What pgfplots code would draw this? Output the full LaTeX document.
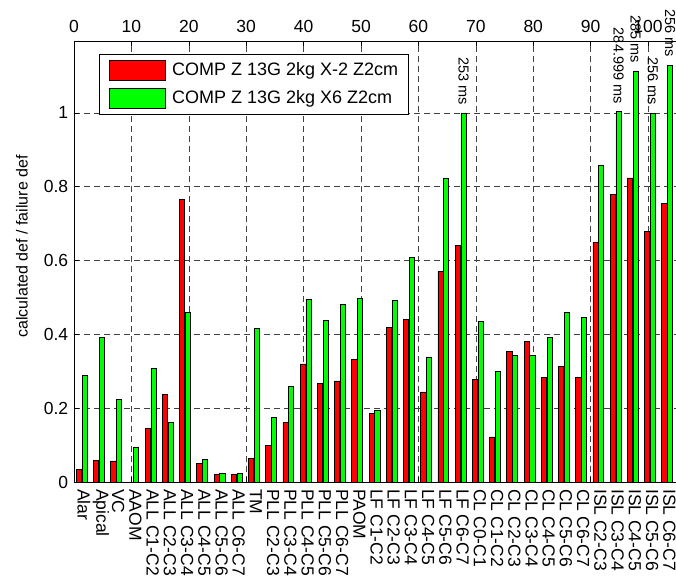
\documentclass[border=0pt]{standalone}
\usepackage{fontspec}
\setmainfont{Liberation Sans}
\usepackage{pgfplots}
\usepackage{pgfplotstable}
\pgfplotsset{compat=1.18}

% k = category index; red = X-2 case, green = X6 case
\pgfplotstableread{
k  red    green
0  0.035  0.289
1  0.058  0.391
2  0.057  0.224
3  0.000  0.095
4  0.145  0.308
5  0.237  0.161
6  0.765  0.460
7  0.050  0.061
8  0.021  0.023
9  0.021  0.023
10 0.065  0.415
11 0.099  0.176
12 0.161  0.259
13 0.320  0.495
14 0.267  0.438
15 0.274  0.480
16 0.332  0.498
17 0.186  0.194
18 0.419  0.491
19 0.441  0.609
20 0.244  0.339
21 0.570  0.823
22 0.641  1.000
23 0.278  0.435
24 0.122  0.300
25 0.354  0.342
26 0.381  0.342
27 0.284  0.392
28 0.313  0.460
29 0.284  0.445
30 0.650  0.859
31 0.780  1.003
32 0.824  1.114
33 0.680  0.999
34 0.756  1.129
}\defdata

\pgfplotsset{
  common/.style={
    scale only axis, width=608.5bp, height=441bp,
    xmin=0, xmax=106, ymin=0, ymax=1.195,
    /pgf/number format/assume math mode=true,
  },
  swatch/.style={legend image code/.code={\draw[##1, line width=0.7bp] (0bp,-10bp) rectangle (56bp,10bp);}},
}
\tikzset{timelabel/.style={rotate=-90, anchor=east, inner xsep=8bp, inner ysep=0pt,
  font=\fontsize{14.5bp}{17bp}\selectfont}}

\begin{document}
\fontsize{17.5bp}{21bp}\selectfont
\begin{tikzpicture}
\begin{axis}[
  common,
  clip=false,
  xtick={0,10,20,30,40,50,60,70,80,90,100},
  ytick={0,0.2,0.4,0.6,0.8,1},
  xticklabel pos=right,
  xtick pos=both, ytick pos=both,
  tick align=inside,
  major tick length=5bp,
  every tick/.style={black, line width=0.6bp},
  axis line style={black, line width=0.8bp},
  grid=major,
  major grid style={black!75, line width=0.6bp, dash pattern=on 6bp off 4bp},
  xticklabel style={anchor=south, inner sep=0pt, yshift=7.7bp},
  yticklabel style={anchor=east, inner sep=0pt, xshift=-5.7bp},
  ylabel={calculated def / failure def},
  ylabel style={at={(axis description cs:-0.0756,0.534)}, anchor=south, inner sep=0pt,
    font=\fontsize{16bp}{19bp}\selectfont},
  legend style={at={(axis description cs:0.0411,0.9705)}, anchor=north west,
    draw=black, line width=0.8bp, fill=white,
    inner xsep=10bp, inner ysep=6bp, row sep=7bp,
    font=\fontsize{18bp}{21bp}\selectfont,
    nodes={inner sep=0pt, anchor=west},
    /tikz/every odd column/.style={column sep=6bp}},
  legend cell align=left,
]
\coordinate (O) at (rel axis cs:0,0);
\addplot[ybar, bar width=0.9, bar shift=0pt, fill=red, draw=black, line width=0.75bp, swatch]
  table[x expr=\thisrow{k}*3+0.85, y=red] {\defdata};
\addlegendentry{COMP Z 13G 2kg X-2 Z2cm}
\addplot[ybar, bar width=0.9, bar shift=0pt, fill=green, draw=black, line width=0.75bp, swatch]
  table[x expr=\thisrow{k}*3+1.85, y=green] {\defdata};
\addlegendentry{COMP Z 13G 2kg X6 Z2cm}

% response times written above the tallest green bars
\node[timelabel] at (axis cs:67.85,1.000) {253 ms};
\node[timelabel] at (axis cs:94.85,1.003) {284.999 ms};
\node[timelabel] at (axis cs:97.85,1.114) {285 ms};
\node[timelabel] at (axis cs:100.85,0.999) {256 ms};
\node[timelabel] at (axis cs:103.85,1.129) {256 ms};
\end{axis}

% category names along the bottom edge
\begin{axis}[
  common,
  axis line style={draw=none},
  ytick=\empty,
  xtick pos=left,
  major tick length=0pt,
  xtick={1.7,4.7,7.7,10.7,13.7,16.7,19.7,22.7,25.7,28.7,31.7,34.7,37.7,40.7,43.7,46.7,49.7,52.7,55.7,58.7,61.7,64.7,67.7,70.7,73.7,76.7,79.7,82.7,85.7,88.7,91.7,94.7,97.7,100.7,103.7},
  xticklabels={Alar,Apical,VC,AAOM,ALL C1-C2,ALL C2-C3,ALL C3-C4,ALL C4-C5,ALL C5-C6,ALL C6-C7,TM,PLL C2-C3,PLL C3-C4,PLL C4-C5,PLL C5-C6,PLL C6-C7,PAOM,LF C1-C2,LF C2-C3,LF C3-C4,LF C4-C5,LF C5-C6,LF C6-C7,CL C0-C1,CL C1-C2,CL C2-C3,CL C3-C4,CL C4-C5,CL C5-C6,CL C6-C7,ISL C2-C3,ISL C3-C4,ISL C4-C5,ISL C5-C6,ISL C6-C7},
  xticklabel style={rotate=-90, anchor=west, inner xsep=7bp, inner ysep=0pt},
]
\end{axis}

\pgfresetboundingbox
\path[use as bounding box] (O) ++(-74bp,-99bp) rectangle ++(676bp,581bp);
\end{tikzpicture}
\end{document}
